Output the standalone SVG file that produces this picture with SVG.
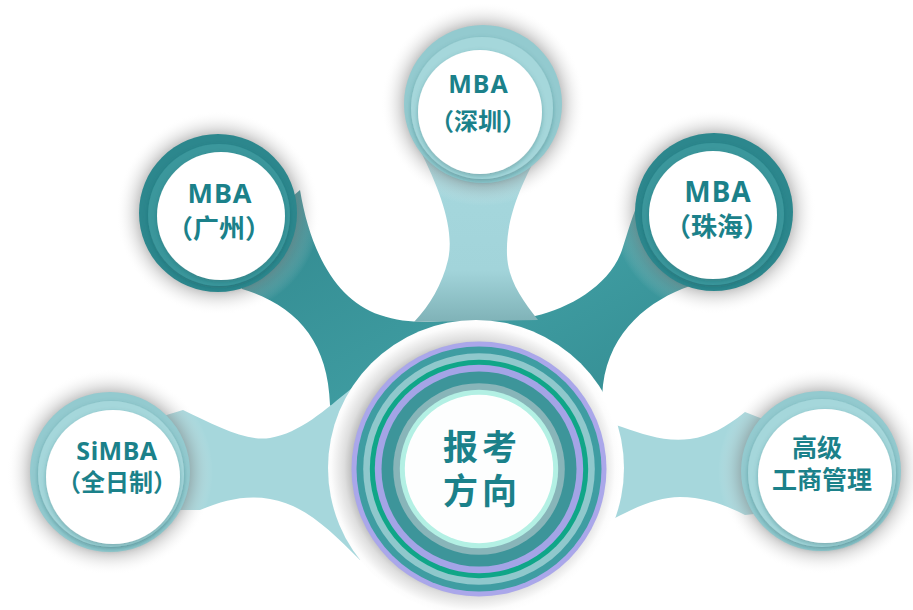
<svg xmlns="http://www.w3.org/2000/svg" width="913" height="610" viewBox="0 0 913 610">
<style>
.t{font-family:"Noto Sans","Noto Sans CJK SC",sans-serif;font-weight:700;fill:#1b818a;text-anchor:middle}
.b{font-weight:700}
.lo{fill:#93cacf}.lm{fill:#a5d7db}
.do{fill:#2c878d}.dm{fill:#3a979c}
.w{fill:#ffffff}
</style>
<defs>
<radialGradient id="halo" cx="0.5" cy="0.5" r="0.5">
<stop offset="0.74" stop-color="#7a7a7a" stop-opacity="0.55"/>
<stop offset="0.84" stop-color="#a0a0a0" stop-opacity="0.28"/>
<stop offset="1" stop-color="#ffffff" stop-opacity="0"/>
</radialGradient>
<radialGradient id="cdisk" cx="0.49" cy="0.5" r="0.5">
<stop offset="0.8" stop-color="#b2b2b2"/>
<stop offset="0.87" stop-color="#dedede"/>
<stop offset="0.96" stop-color="#fcfcfc"/>
<stop offset="1" stop-color="#ffffff"/>
</radialGradient>
<linearGradient id="band" x1="0" y1="150" x2="0" y2="322" gradientUnits="userSpaceOnUse">
<stop offset="0" stop-color="#a6d8de"/>
<stop offset="0.7" stop-color="#a2d4da"/>
<stop offset="1" stop-color="#7fb2b7"/>
</linearGradient>
<linearGradient id="dark" x1="0" y1="0" x2="1" y2="1">
<stop offset="0" stop-color="#31888e"/>
<stop offset="0.5" stop-color="#3e9ba0"/>
<stop offset="1" stop-color="#2f868c"/>
</linearGradient>
<filter id="sh" x="-20%" y="-20%" width="140%" height="140%">
<feDropShadow dx="0" dy="2" stdDeviation="2.5" flood-color="#1d5a5f" flood-opacity="0.35"/>
</filter>
</defs>
<rect width="913" height="610" fill="#ffffff"/>

<g id="connectors">
<path fill="url(#dark)" d="M300 190 C310 250 335 300 380 315 C395 320 410 322 425 322 L535 316 C570 308 610 285 622 250 C628 232 632 215 640 200 L720 200 L700 280 L690 286 C650 300 610 330 603 385 L600 420 L480 470 L340 420 L330 405 C328 340 295 305 242 289 L230 250 Z"/>
<path fill="url(#band)" d="M420 150 C440 190 455 230 448 260 C442 285 430 305 414 322 L538 320 C522 300 508 280 507 255 C506 225 515 195 540 150 Z"/>
<path fill="#a6d7dc" d="M150 420 L183 410 C215 425 245 442 270 438 C300 433 325 410 352 388 L420 430 L420 540 L360 560 C330 530 305 505 270 499 C245 495 225 500 200 510 L150 510 Z"/>
<path fill="#a6d7dc" d="M600 420 L622 427 C645 435 665 442 690 439 C710 436 725 428 745 412 L790 430 L790 510 L745 515 C725 505 705 497 680 497 C660 497 640 505 615 518 L600 520 Z"/>
</g>

<g id="node-sz">
<circle cx="483" cy="104" r="102" fill="url(#halo)"/>
<circle class="lo" cx="483" cy="104" r="79"/>
<circle class="lm" cx="482" cy="108" r="71" filter="url(#sh)"/>
<circle class="w" cx="480" cy="112" r="62" filter="url(#sh)"/>
<text class="t" x="478.5" y="93" font-size="25" letter-spacing="1">MBA</text>
<text class="t" x="478" y="130" font-size="24">（深圳）</text>
</g>

<g id="node-gz">
<circle cx="218" cy="213" r="102" fill="url(#halo)"/>
<circle class="do" cx="218" cy="213" r="79"/>
<circle class="dm" cx="219" cy="215" r="71" filter="url(#sh)"/>
<circle class="w" cx="221" cy="216" r="64" filter="url(#sh)"/>
<text class="t" x="220" y="203" font-size="27" letter-spacing="1">MBA</text>
<text class="t" x="219" y="238" font-size="26">（广州）</text>
</g>

<g id="node-zh">
<circle cx="714" cy="212" r="102" fill="url(#halo)"/>
<circle class="do" cx="714" cy="212" r="79"/>
<circle class="dm" cx="713" cy="214" r="71" filter="url(#sh)"/>
<circle class="w" cx="713" cy="215" r="64" filter="url(#sh)"/>
<text class="t" x="718" y="202" font-size="28" letter-spacing="1">MBA</text>
<text class="t" x="717" y="236" font-size="26">（珠海）</text>
</g>

<g id="node-simba">
<circle cx="110" cy="472" r="103" fill="url(#halo)"/>
<circle class="lo" cx="110" cy="472" r="80"/>
<circle class="lm" cx="111" cy="474" r="73" filter="url(#sh)"/>
<circle class="w" cx="113" cy="477" r="67" filter="url(#sh)"/>
<text class="t" x="117" y="460" font-size="25" letter-spacing="0.5">SiMBA</text>
<text class="t" x="117" y="491" font-size="24">（全日制）</text>
</g>

<g id="node-emba">
<circle cx="821" cy="471" r="103" fill="url(#halo)"/>
<circle class="lo" cx="821" cy="471" r="80"/>
<circle class="lm" cx="822" cy="473" r="74" filter="url(#sh)"/>
<circle class="w" cx="825" cy="476" r="67" filter="url(#sh)"/>
<text class="t b" x="817" y="457" font-size="25">高级</text>
<text class="t b" x="822" y="489" font-size="25">工商管理</text>
</g>

<g id="node-center">
<circle cx="476" cy="468" r="148" fill="url(#cdisk)"/>
<circle cx="479" cy="469" r="127.5" fill="#aaa7ea"/>
<circle cx="479" cy="469" r="122.5" fill="#3f9da2"/>
<circle cx="479" cy="469" r="115.8" fill="#8fc8cc"/>
<circle cx="479" cy="469" r="109.2" fill="#10a688"/>
<circle cx="479" cy="469" r="104.2" fill="#a4a4e6"/>
<circle cx="479" cy="469" r="97.5" fill="#3d959a"/>
<circle cx="479" cy="469" r="85.8" fill="#88b5b9"/>
<circle cx="479" cy="469" r="79.2" fill="#b3f0e4"/>
<circle cx="479" cy="469" r="74.2" fill="#fdfefe"/>
<text class="t b" x="482" y="460" font-size="35" letter-spacing="4" fill="#1d7b84">报考</text>
<text class="t b" x="482" y="504" font-size="35" letter-spacing="4" fill="#1d7b84">方向</text>
</g>
</svg>
